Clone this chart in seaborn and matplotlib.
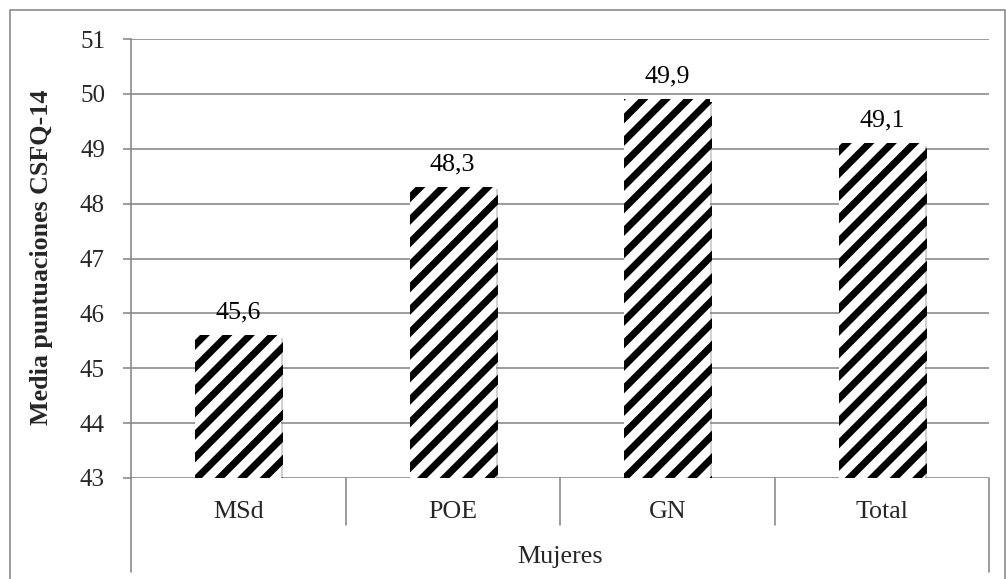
import matplotlib
matplotlib.use("Agg")
import matplotlib.pyplot as plt
import matplotlib.patheffects as pe
from matplotlib.patches import Rectangle
from matplotlib.lines import Line2D
import seaborn as sns
import pandas as pd

# Data
categories = ["MSd", "POE", "GN", "Total"]
values = [45.6, 48.3, 49.9, 49.1]
value_labels = ["45,6", "48,3", "49,9", "49,1"]
group_label = "Mujeres"
y_label = "Media puntuaciones CSFQ-14"
y_ticks = [43, 44, 45, 46, 47, 48, 49, 50, 51]

DPI = 135
PX = 72.0 / DPI  # points per pixel

sns.set_theme(style="white")
plt.rcParams["font.family"] = ["Liberation Serif", "DejaVu Serif"]
plt.rcParams["hatch.linewidth"] = 7.0 * PX

df = pd.DataFrame({"cat": categories, "val": values})

W, H = 1006, 579
fig = plt.figure(figsize=(W / DPI, H / DPI), dpi=DPI)
ax_left, ax_right, ax_top, ax_bottom = 131, 989, 39, 478
ax = fig.add_axes([ax_left / W, 1 - ax_bottom / H,
                   (ax_right - ax_left) / W, (ax_bottom - ax_top) / H])

grid_c = "#878787"
lw = 1.6 * PX
fs_tick = 25 * PX
fs_text = 26 * PX

sns.barplot(data=df, x="cat", y="val", color="white", width=0.4,
            edgecolor="black", linewidth=0, ax=ax, zorder=3)

for p in ax.patches:
    p.set_hatch("//")
    p.set_facecolor("white")
    p.set_path_effects([pe.SimplePatchShadow(offset=(1.2, -1.2),
                                             shadow_rgbFace="#808080",
                                             alpha=0.35),
                        pe.Normal()])

ax.set_ylim(43, 51)
ax.set_xlim(-0.5, len(categories) - 0.5)
ax.set_yticks(y_ticks)
ax.set_yticklabels([str(t) for t in y_ticks], fontsize=fs_tick)
ax.yaxis.grid(True, color=grid_c, linewidth=lw, zorder=0)
ax.set_axisbelow(True)
ax.tick_params(axis="y", direction="out", length=8 * PX, width=lw,
               color=grid_c, pad=18 * PX, left=True)
ax.tick_params(axis="x", bottom=False, labelbottom=False)
ax.set_xlabel("")
ax.set_ylabel("")

for s in ["top", "right", "bottom"]:
    ax.spines[s].set_visible(False)
ax.spines["left"].set_color(grid_c)
ax.spines["left"].set_linewidth(lw)

# Value labels above bars
for i, (v, lab) in enumerate(zip(values, value_labels)):
    ax.annotate(lab, (i, v), xytext=(0, 17 * PX), textcoords="offset points",
                ha="center", va="baseline", fontsize=fs_text, color="black")

# Category axis: separators below the plot area, labels and group label
trans = ax.get_xaxis_transform()
span = ax_bottom - ax_top


def below(y_px):
    return -(y_px - ax_bottom) / span


n = len(categories)
for k in range(n + 1):
    xb = k - 0.5
    y_end = below(572) if k in (0, n) else below(525)
    ax.add_line(Line2D([xb, xb], [0, y_end], transform=trans, color=grid_c,
                       linewidth=lw, clip_on=False))
for i, c in enumerate(categories):
    ax.text(i, below(518), c, transform=trans, ha="center", va="baseline",
            fontsize=fs_text)
ax.text((n - 1) / 2, below(563), group_label, transform=trans,
        ha="center", va="baseline", fontsize=fs_text)

fig.text(42 / W, 1 - 257 / H, y_label, rotation=90, ha="center", va="center",
         fontsize=fs_text, fontweight="bold")

# Outer chart border
fig.patches.append(Rectangle((10 / W, -0.1), (1005 - 10) / W, 1 - 10 / H + 0.1,
                             transform=fig.transFigure, fill=False,
                             edgecolor=grid_c, linewidth=lw))

fig.savefig("out.png", dpi=DPI)
